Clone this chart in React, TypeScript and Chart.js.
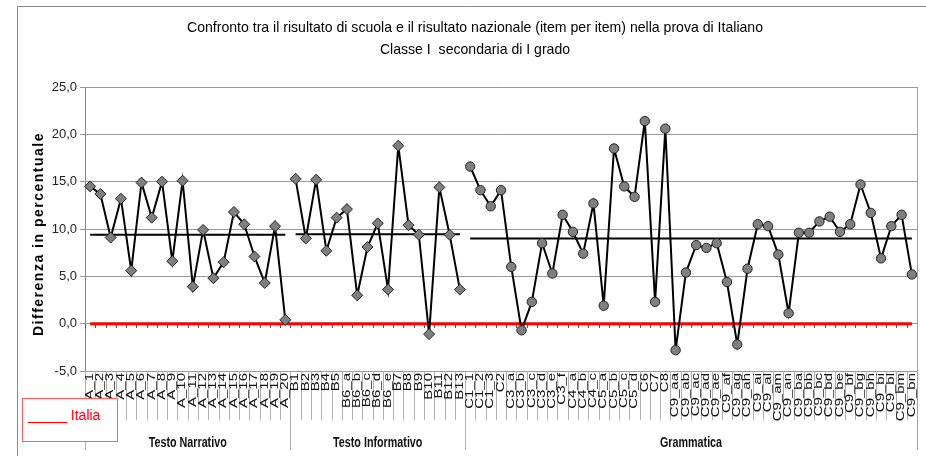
import React, { useEffect, useRef } from 'react';
import { Chart, registerables } from 'chart.js';

Chart.register(...registerables);

const titleLines = [
  'Confronto tra il risultato di scuola e il risultato nazionale (item per item) nella prova di Italiano',
  'Classe I  secondaria di I grado',
];
const yAxisTitle = 'Differenza in percentuale';
const legendLabel = 'Italia';

const sectionNames = ['Testo Narrativo', 'Testo Informativo', 'Grammatica'];

const itemsA = ['A_1', 'A_2', 'A_3', 'A_4', 'A_5', 'A_6', 'A_7', 'A_8', 'A_9', 'A_10', 'A_11', 'A_12', 'A_13', 'A_14', 'A_15', 'A_16', 'A_17', 'A_18', 'A_19', 'A_20'];
const itemsB = ['B1', 'B2', 'B3', 'B4', 'B5', 'B6_a', 'B6_b', 'B6_c', 'B6_d', 'B6_e', 'B7', 'B8', 'B9', 'B10', 'B11', 'B12', 'B13'];
const itemsC = ['C1_1', 'C1_2', 'C1_3', 'C2', 'C3_a', 'C3_b', 'C3_c', 'C3_d', 'C3_e', 'C3_f', 'C4_a', 'C4_b', 'C4_c', 'C5_a', 'C5_b', 'C5_c', 'C5_d', 'C6', 'C7', 'C8',
  'C9_aa', 'C9_ab', 'C9_ac', 'C9_ad', 'C9_ae', 'C9_af', 'C9_ag', 'C9_ah', 'C9_ai', 'C9_al', 'C9_am', 'C9_an', 'C9_ba', 'C9_bb', 'C9_bc', 'C9_bd', 'C9_be', 'C9_bf', 'C9_bg', 'C9_bh', 'C9_bi', 'C9_bl', 'C9_bm', 'C9_bn'];

const valuesA = [14.5, 13.7, 9.1, 13.2, 5.6, 14.9, 11.2, 15.0, 6.6, 15.1, 3.9, 9.9, 4.8, 6.5, 11.8, 10.5, 7.1, 4.3, 10.3, 0.4];
const valuesB = [15.3, 9.0, 15.2, 7.7, 11.2, 12.1, 3.0, 8.1, 10.6, 3.6, 18.8, 10.4, 9.4, -1.1, 14.4, 9.4, 3.6];
const valuesC = [16.6, 14.1, 12.4, 14.1, 6.0, -0.7, 2.3, 8.5, 5.3, 11.5, 9.7, 7.4, 12.7, 1.9, 18.5, 14.5, 13.4, 21.4, 2.3, 20.6,
  -2.8, 5.4, 8.3, 8.0, 8.5, 4.4, -2.2, 5.8, 10.5, 10.3, 7.3, 1.1, 9.6, 9.6, 10.8, 11.3, 9.7, 10.5, 14.7, 11.7, 6.9, 10.3, 11.5, 5.2];

const sectionMeans = [9.4, 9.45, 9.0];
const italiaValue = 0;

const yMin = -5;
const yMax = 25;
const yStep = 5;

const FONT = '"Liberation Sans", Arial, sans-serif';
const NARROW = '"Liberation Sans Narrow", "Liberation Sans", Arial, sans-serif';

export default function App() {
  const canvasRef = useRef<HTMLCanvasElement | null>(null);

  useEffect(() => {
    const canvas = canvasRef.current;
    if (!canvas) return;

    const categories = [...itemsA, ...itemsB, ...itemsC];
    const nA = itemsA.length;
    const nB = itemsB.length;
    const nC = itemsC.length;
    const empty = (n: number) => Array(n).fill(null);

    const dataA = [...valuesA, ...empty(nB + nC)];
    const dataB = [...empty(nA), ...valuesB, ...empty(nC)];
    const dataC = [...empty(nA + nB), ...valuesC];
    const meanA = [...itemsA.map(() => sectionMeans[0]), ...empty(nB + nC)];
    const meanB = [...empty(nA), ...itemsB.map(() => sectionMeans[1]), ...empty(nC)];
    const meanC = [...empty(nA + nB), ...itemsC.map(() => sectionMeans[2])];
    const italia = categories.map(() => italiaValue);

    const sectionBounds = [0, nA, nA + nB, nA + nB + nC];

    const decor = {
      id: 'decor',
      beforeDatasetsDraw(chart: any) {
        const { ctx, scales } = chart;
        const x = scales.x;
        const y = scales.y;
        const step = x.getPixelForValue(1) - x.getPixelForValue(0);
        const y0 = Math.round(y.getPixelForValue(0));
        ctx.save();
        ctx.strokeStyle = '#555';
        ctx.lineWidth = 1;
        ctx.beginPath();
        for (let i = 0; i <= categories.length; i++) {
          const bx = Math.round(x.getPixelForValue(i) - step / 2) + 0.5;
          ctx.moveTo(bx, y0);
          ctx.lineTo(bx, y0 + 4);
        }
        ctx.stroke();
        ctx.restore();
      },
      afterDraw(chart: any) {
        const { ctx, chartArea, scales } = chart;
        const x = scales.x;
        const step = x.getPixelForValue(1) - x.getPixelForValue(0);
        ctx.save();

        // outer frame
        ctx.strokeStyle = '#8a8a8a';
        ctx.lineWidth = 1;
        ctx.beginPath();
        ctx.moveTo(17.5, 456);
        ctx.lineTo(17.5, 6.5);
        ctx.lineTo(926, 6.5);
        ctx.stroke();

        // right border of plot / label area
        ctx.strokeStyle = '#a0a0a0';
        ctx.beginPath();
        const rx = Math.round(chartArea.right) + 0.5;
        ctx.moveTo(rx, chartArea.top);
        ctx.lineTo(rx, 450);
        ctx.stroke();

        // category separators in label area
        ctx.strokeStyle = '#b0b0b0';
        ctx.beginPath();
        for (let i = 0; i < categories.length; i++) {
          const bx = Math.round(x.getPixelForValue(i) - step / 2) + 0.5;
          const isSection = sectionBounds.includes(i);
          ctx.moveTo(bx, chartArea.bottom);
          ctx.lineTo(bx, isSection ? 450 : 420);
        }
        ctx.stroke();

        // category labels
        ctx.fillStyle = '#111';
        ctx.font = `10px ${FONT}`;
        ctx.textAlign = 'right';
        ctx.textBaseline = 'middle';
        categories.forEach((lab, i) => {
          const px = x.getPixelForValue(i);
          ctx.save();
          ctx.translate(px, chartArea.bottom + 2);
          ctx.rotate(-Math.PI / 2);
          ctx.scale(1.5, 1);
          ctx.fillText(lab, 0, 0);
          ctx.restore();
        });

        // section names
        ctx.font = `bold 14px ${FONT}`;
        ctx.textAlign = 'center';
        ctx.textBaseline = 'middle';
        ctx.fillStyle = '#111';
        const sSx = 78 / ctx.measureText(sectionNames[0]).width;
        sectionNames.forEach((name, k) => {
          const left = x.getPixelForValue(sectionBounds[k]) - step / 2;
          const right = x.getPixelForValue(sectionBounds[k + 1] - 1) + step / 2;
          ctx.save();
          ctx.translate((left + right) / 2, 443);
          ctx.scale(sSx, 1);
          ctx.fillText(name, 0, 0);
          ctx.restore();
        });

        // title
        ctx.font = `15px ${FONT}`;
        ctx.fillStyle = '#000';
        const tSx = 576 / ctx.measureText(titleLines[0]).width;
        titleLines.forEach((line, k) => {
          ctx.save();
          ctx.translate(475, 28 + k * 22);
          ctx.scale(tSx, 1);
          ctx.fillText(line, 0, 0);
          ctx.restore();
        });

        // y axis title
        ctx.save();
        ctx.font = `bold 14px ${FONT}`;
        (ctx as any).letterSpacing = '1.5px';
        ctx.fillStyle = '#000';
        ctx.translate(39, 234);
        ctx.rotate(-Math.PI / 2);
        ctx.fillText(yAxisTitle, 0, 0);
        ctx.restore();

        ctx.restore();
      },
    };

    const chart = new Chart(canvas, {
      type: 'line',
      data: {
        labels: categories,
        datasets: [
          {
            label: 'A',
            data: dataA,
            borderColor: '#000',
            borderWidth: 2,
            pointStyle: 'rectRot',
            pointRadius: 5.5,
            pointBackgroundColor: '#7f7f7f',
            pointBorderColor: '#222',
            pointBorderWidth: 1,
            order: 0,
          },
          {
            label: 'B',
            data: dataB,
            borderColor: '#000',
            borderWidth: 2,
            pointStyle: 'rectRot',
            pointRadius: 5.5,
            pointBackgroundColor: '#7f7f7f',
            pointBorderColor: '#222',
            pointBorderWidth: 1,
            order: 0,
          },
          {
            label: 'C',
            data: dataC,
            borderColor: '#000',
            borderWidth: 2,
            pointStyle: 'circle',
            pointRadius: 4.7,
            pointBackgroundColor: '#7f7f7f',
            pointBorderColor: '#222',
            pointBorderWidth: 1,
            order: 0,
          },
          { label: 'mA', data: meanA, borderColor: '#000', borderWidth: 2, pointRadius: 0, order: 5 },
          { label: 'mB', data: meanB, borderColor: '#000', borderWidth: 2, pointRadius: 0, order: 5 },
          { label: 'mC', data: meanC, borderColor: '#000', borderWidth: 2, pointRadius: 0, order: 5 },
          { label: legendLabel, data: italia, borderColor: '#ff0000', borderWidth: 3, pointRadius: 0, order: 10 },
        ],
      },
      options: {
        animation: false,
        responsive: true,
        maintainAspectRatio: false,
        layout: { padding: { top: 87, right: 9, bottom: 0, left: 0 } },
        plugins: {
          legend: { display: false },
          tooltip: { enabled: false },
          title: { display: false },
        },
        elements: { line: { tension: 0 } },
        scales: {
          x: {
            type: 'category',
            offset: true,
            grid: { display: false },
            border: { display: false },
            ticks: { display: false },
            afterFit: (s: any) => {
              s.height = 85;
            },
          },
          y: {
            min: yMin,
            max: yMax,
            ticks: {
              stepSize: yStep,
              callback: (v: any) => Number(v).toFixed(1).replace('.', ','),
              font: { family: NARROW, size: 13 },
              color: '#222',
              padding: 3,
            },
            grid: { color: '#9a9a9a', tickLength: 5, lineWidth: 1 },
            border: { color: '#8a8a8a' },
            afterFit: (s: any) => {
              s.width = 85;
            },
          },
        },
      },
      plugins: [decor],
    });

    return () => chart.destroy();
  }, []);

  return (
    <div style={{ position: 'absolute', left: 0, top: 0, width: 926, height: 456, background: '#fff' }}>
      <canvas ref={canvasRef} />
      <div
        style={{
          position: 'absolute',
          left: 22,
          top: 398,
          width: 96,
          height: 44,
          boxSizing: 'border-box',
          border: '1px solid #ff6060',
          background: '#fff',
          color: '#ff0000',
          font: `14px ${FONT}`,
          paddingLeft: 5,
          paddingTop: 8,
          lineHeight: '16px',
          whiteSpace: 'pre',
        }}
      >
        {'_____ ' + legendLabel}
      </div>
    </div>
  );
}
